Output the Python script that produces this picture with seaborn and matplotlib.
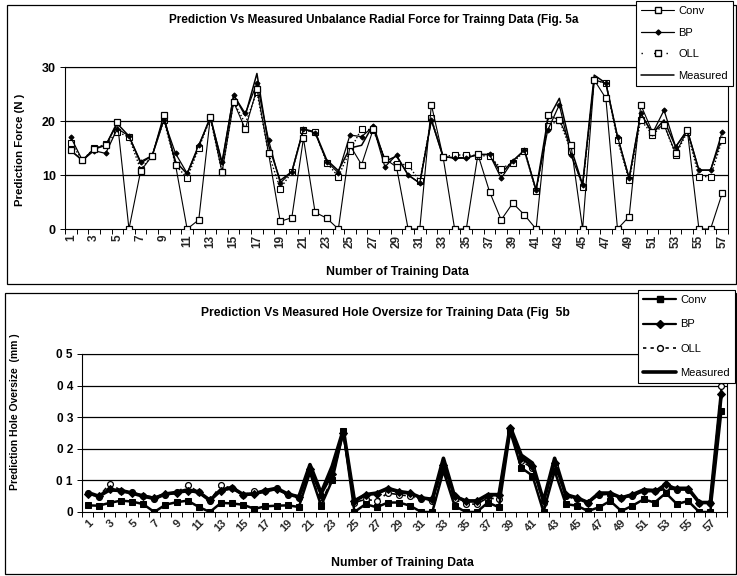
import numpy as np
import pandas as pd
import matplotlib
matplotlib.use("Agg")
import matplotlib.pyplot as plt
import seaborn as sns
from matplotlib.lines import Line2D
from matplotlib.patches import Rectangle
from matplotlib.ticker import FixedLocator, FixedFormatter

sns.set_theme(style="white")
plt.rcParams["font.family"] = ["Liberation Sans", "DejaVu Sans"]

# ---- Fig. 5a: unbalance radial force (N), 57 training samples ----
force_conv = [14.6, 12.7, 14.9, 15.5, 19.9, 0, 10.7, 13.6, 21.2, 11.9, 0, 1.7, 20.8, 10.5,
              23.5, 18.5, 26.0, 14.0, 1.4, 2.1, 16.8, 3.1, 2.0, 0, 15.5, 11.9, 18.5, 13.0,
              11.5, 0, 0, 23.0, 13.4, 0, 0, 13.8, 6.9, 1.7, 4.8, 2.6, 0, 21.1, 20.2, 15.6,
              0, 27.6, 24.2, 0, 2.3, 23.0, 18.0, 19.3, 14.0, 18.3, 0, 0, 6.6]
force_bp = [17.0, 12.7, 14.5, 14.0, 18.6, 17.2, 12.5, 13.6, 20.2, 14.0, 10.3, 15.6, 20.5, 12.5,
            24.8, 21.4, 27.0, 16.5, 8.5, 10.6, 18.5, 17.8, 12.5, 10.4, 17.4, 17.1, 19.0, 11.5,
            13.7, 10.0, 8.5, 20.2, 13.4, 13.1, 13.1, 13.8, 13.8, 9.4, 12.6, 14.6, 7.2, 18.3,
            23.0, 13.7, 8.2, 27.6, 27.0, 17.1, 9.4, 21.4, 17.7, 22.0, 15.2, 18.3, 10.9, 10.9, 18.0]
force_oll = [16.0, 12.7, 15.0, 15.7, 18.0, 17.0, 11.0, 13.6, 20.2, 11.9, 9.4, 15.0, 20.5, 10.5,
             23.6, 19.5, 25.4, 14.0, 7.5, 10.5, 18.3, 18.0, 12.3, 9.7, 14.5, 18.6, 18.3, 13.0,
             12.0, 11.9, 8.8, 20.5, 13.4, 13.7, 13.7, 13.6, 13.5, 11.2, 12.3, 14.4, 7.0, 19.0,
             20.2, 14.5, 7.8, 27.6, 27.0, 16.5, 9.0, 20.2, 17.5, 19.3, 13.7, 18.0, 9.7, 9.7, 16.5]
force_meas = [14.5, 12.7, 14.8, 15.5, 19.5, 17.2, 12.2, 13.6, 20.5, 12.5, 10.2, 15.3, 20.8, 12.0,
              24.8, 21.0, 28.8, 15.5, 9.0, 10.6, 18.5, 18.0, 12.8, 10.8, 15.0, 15.5, 19.3, 12.5,
              13.5, 10.0, 8.5, 20.2, 13.4, 13.2, 13.2, 13.8, 13.8, 10.3, 12.6, 14.6, 7.2, 20.2,
              24.2, 15.0, 8.2, 28.5, 27.0, 17.1, 9.4, 21.4, 17.7, 20.2, 15.2, 18.3, 10.9, 10.9, 17.0]

# ---- Fig. 5b: hole oversize (mm), 58 training samples ----
hole_conv = [0.021, 0.020, 0.029, 0.036, 0.033, 0.025, 0.0, 0.023, 0.031, 0.036, 0.016, 0.0,
             0.029, 0.027, 0.023, 0.010, 0.018, 0.020, 0.021, 0.016, 0.125, 0.020, 0.100, 0.255,
             0.0, 0.025, 0.015, 0.030, 0.030, 0.020, 0.0, 0.0, 0.130, 0.020, 0.0, 0.0, 0.030,
             0.015, 0.255, 0.140, 0.115, 0.0, 0.130, 0.025, 0.020, 0.003, 0.015, 0.035, 0.003,
             0.020, 0.040, 0.030, 0.060, 0.025, 0.035, 0.0, 0.0, 0.320]
hole_bp = [0.058, 0.050, 0.072, 0.066, 0.060, 0.052, 0.045, 0.057, 0.060, 0.066, 0.062, 0.038,
           0.068, 0.075, 0.055, 0.056, 0.066, 0.072, 0.057, 0.048, 0.135, 0.055, 0.120, 0.250,
           0.035, 0.055, 0.058, 0.072, 0.063, 0.060, 0.045, 0.040, 0.150, 0.050, 0.035, 0.035,
           0.052, 0.055, 0.265, 0.170, 0.145, 0.035, 0.155, 0.055, 0.045, 0.030, 0.058, 0.058,
           0.045, 0.055, 0.068, 0.065, 0.090, 0.072, 0.072, 0.030, 0.030, 0.375]
hole_oll = [0.060, 0.048, 0.090, 0.068, 0.062, 0.050, 0.042, 0.055, 0.062, 0.085, 0.063, 0.036,
            0.085, 0.075, 0.055, 0.065, 0.068, 0.075, 0.055, 0.045, 0.125, 0.030, 0.105, 0.250,
            0.030, 0.040, 0.035, 0.060, 0.055, 0.050, 0.040, 0.035, 0.140, 0.040, 0.025, 0.025,
            0.045, 0.040, 0.260, 0.160, 0.140, 0.030, 0.150, 0.050, 0.040, 0.030, 0.055, 0.055,
            0.045, 0.050, 0.065, 0.065, 0.080, 0.070, 0.070, 0.030, 0.030, 0.400]
hole_meas = [0.062, 0.050, 0.070, 0.068, 0.060, 0.050, 0.043, 0.057, 0.062, 0.070, 0.063, 0.037,
             0.070, 0.077, 0.055, 0.058, 0.068, 0.075, 0.057, 0.048, 0.150, 0.060, 0.145, 0.260,
             0.035, 0.055, 0.060, 0.075, 0.065, 0.060, 0.045, 0.040, 0.170, 0.050, 0.035, 0.035,
             0.055, 0.055, 0.270, 0.180, 0.155, 0.035, 0.170, 0.055, 0.045, 0.030, 0.060, 0.060,
             0.045, 0.055, 0.070, 0.068, 0.075, 0.075, 0.075, 0.030, 0.030, 0.380]

series_names = ["Conv", "BP", "OLL", "Measured"]
force_yticks = [0, 10, 20, 30]
hole_yticks = [0, 0.1, 0.2, 0.3, 0.4, 0.5]
hole_ytick_labels = ["0", "0 1", "0 2", "0 3", "0 4", "0 5"]

W, H = 737, 576
fig = plt.figure(figsize=(W / 100, H / 100), dpi=100)
fig.patch.set_facecolor("white")


def px_box(left, top, right, bottom):
    return [left / W, 1 - bottom / H, (right - left) / W, (bottom - top) / H]


def frame(left, top, right, bottom, lw=0.9):
    fig.patches.append(Rectangle((left / W, 1 - bottom / H), (right - left) / W,
                                 (bottom - top) / H, transform=fig.transFigure,
                                 fill=False, ec="black", lw=lw, zorder=0))


frame(7, 5, 736, 284)
frame(5, 293, 736, 574)

bold = dict(fontweight="bold", color="black")


def style_axes(ax, n, ylim, yticks, ylabels, rot, ysize, xsize):
    ax.set_xlim(0.5, n + 0.5)
    ax.set_ylim(*ylim)
    ax.set_facecolor("white")
    for s in ax.spines.values():
        s.set_color("black")
        s.set_linewidth(0.8)
    ax.set_yticks(yticks)
    ax.set_yticklabels(ylabels, fontsize=ysize, **bold)
    for y in yticks[1:]:
        ax.axhline(y, color="black", lw=0.9, zorder=0.5)
    odd = list(range(1, n + 1, 2))
    ax.xaxis.set_major_locator(FixedLocator(odd))
    ax.xaxis.set_major_formatter(FixedFormatter([str(i) for i in odd]))
    ax.xaxis.set_minor_locator(FixedLocator(np.arange(0.5, n + 1, 1.0)))
    ax.tick_params(axis="x", which="major", length=0, pad=4)
    ax.tick_params(axis="x", which="minor", length=3.5, width=0.7, direction="out",
                   color="black", bottom=True)
    ax.tick_params(axis="y", which="major", length=3.5, width=0.7, direction="out",
                   color="black", left=True, pad=3)
    for t in ax.get_xticklabels():
        t.set_fontsize(xsize)
        t.set_fontweight("bold")
        t.set_va("top")
        if rot == 90:
            t.set_rotation(90)
            t.set_ha("center")
        else:
            t.set_rotation(45)
            t.set_rotation_mode("anchor")
            t.set_ha("right")
    ax.grid(False)
    ax.set_xlabel("")
    ax.set_ylabel("")


# ---------------- top panel ----------------
ax1 = fig.add_axes(px_box(65, 67, 728, 229))
x1 = np.arange(1, len(force_meas) + 1)
df1 = pd.DataFrame({"n": x1, "Conv": force_conv, "BP": force_bp,
                    "OLL": force_oll, "Measured": force_meas})

sns.lineplot(data=df1, x="n", y="Measured", ax=ax1, color="black", lw=1.1, zorder=3)
sns.lineplot(data=df1, x="n", y="OLL", ax=ax1, color="black", lw=1.0, linestyle=(0, (1, 1.5)),
             marker="s", markersize=4, markerfacecolor="white", markeredgecolor="black",
             markeredgewidth=0.8, zorder=4)
sns.lineplot(data=df1, x="n", y="BP", ax=ax1, color="black", lw=0.9, marker="D",
             markersize=2.6, markerfacecolor="black", markeredgecolor="black", zorder=5)
sns.lineplot(data=df1, x="n", y="Conv", ax=ax1, color="black", lw=0.8, marker="s",
             markersize=4.5, markerfacecolor="white", markeredgecolor="black",
             markeredgewidth=0.9, zorder=6)
style_axes(ax1, len(x1), (0, 30), force_yticks, [str(v) for v in force_yticks], 90, 9, 8.5)

fig.text(374 / W, 1 - 20 / H,
         "Prediction Vs Measured Unbalance Radial Force for Trainng Data (Fig. 5a",
         ha="center", va="center", fontsize=8.5, **bold)
fig.text(20 / W, 1 - 150 / H, "Prediction Force (N )", rotation=90,
         ha="center", va="center", fontsize=8.2, **bold)
fig.text(397 / W, 1 - 272 / H, "Number of Training Data",
         ha="center", va="center", fontsize=8.8, **bold)

# ---------------- bottom panel ----------------
ax2 = fig.add_axes(px_box(82, 354, 727, 512))
x2 = np.arange(1, len(hole_meas) + 1)
df2 = pd.DataFrame({"n": x2, "Conv": hole_conv, "BP": hole_bp,
                    "OLL": hole_oll, "Measured": hole_meas})

sns.lineplot(data=df2, x="n", y="Measured", ax=ax2, color="black", lw=2.6, zorder=3)
sns.lineplot(data=df2, x="n", y="OLL", ax=ax2, color="black", lw=1.2, linestyle=(0, (3, 2.5)),
             marker="o", markersize=4.2, markerfacecolor="white", markeredgecolor="black",
             markeredgewidth=0.9, zorder=4)
sns.lineplot(data=df2, x="n", y="BP", ax=ax2, color="black", lw=1.8, marker="D",
             markersize=3.6, markerfacecolor="black", markeredgecolor="black", zorder=5)
sns.lineplot(data=df2, x="n", y="Conv", ax=ax2, color="black", lw=1.8, marker="s",
             markersize=4.8, markerfacecolor="black", markeredgecolor="black", zorder=6)
style_axes(ax2, len(x2), (0, 0.5), hole_yticks, hole_ytick_labels, 45, 8.5, 8)

fig.text(385 / W, 1 - 313 / H,
         "Prediction Vs Measured Hole Oversize for Training Data (Fig  5b",
         ha="center", va="center", fontsize=8.7, **bold)
fig.text(15 / W, 1 - 412 / H, "Prediction Hole Oversize  (mm )", rotation=90,
         ha="center", va="center", fontsize=7.5, **bold)
fig.text(402 / W, 1 - 563 / H, "Number of Training Data",
         ha="center", va="center", fontsize=8.8, **bold)

# ---------------- legends ----------------
top_handles = [
    Line2D([], [], color="black", lw=0.8, marker="s", markersize=4.5,
           markerfacecolor="white", markeredgecolor="black"),
    Line2D([], [], color="black", lw=0.9, marker="D", markersize=2.6),
    Line2D([], [], color="black", lw=1.0, linestyle=(0, (1, 8)), marker="s", markersize=4,
           markerfacecolor="white", markeredgecolor="black"),
    Line2D([], [], color="black", lw=1.1),
]
bot_handles = [
    Line2D([], [], color="black", lw=1.6, marker="s", markersize=4.5),
    Line2D([], [], color="black", lw=1.6, marker="D", markersize=3.6),
    Line2D([], [], color="black", lw=1.2, linestyle=(0, (2, 2.5)), marker="o",
           markersize=4.2, markerfacecolor="white", markeredgecolor="black"),
    Line2D([], [], color="black", lw=2.6),
]

leg_font = {"family": ["Liberation Sans", "DejaVu Sans"], "size": 8}
for handles, anchor, spacing in ((top_handles, (636 / W, 1 - 1 / H), 1.05),
                                 (bot_handles, (638 / W, 1 - 290 / H), 1.3)):
    leg = fig.legend(handles, series_names, loc="upper left", bbox_to_anchor=anchor,
                     frameon=True, fancybox=False, shadow=False, prop=leg_font,
                     handlelength=3.0, handletextpad=0.35, labelspacing=spacing,
                     borderpad=0.45, borderaxespad=0.0)
    leg.get_frame().set_edgecolor("black")
    leg.get_frame().set_linewidth(0.8)
    leg.get_frame().set_facecolor("white")
    leg.get_frame().set_alpha(1)
    for t in leg.get_texts():
        t.set_color("black")

fig.savefig("out.png", dpi=100, facecolor="white")
